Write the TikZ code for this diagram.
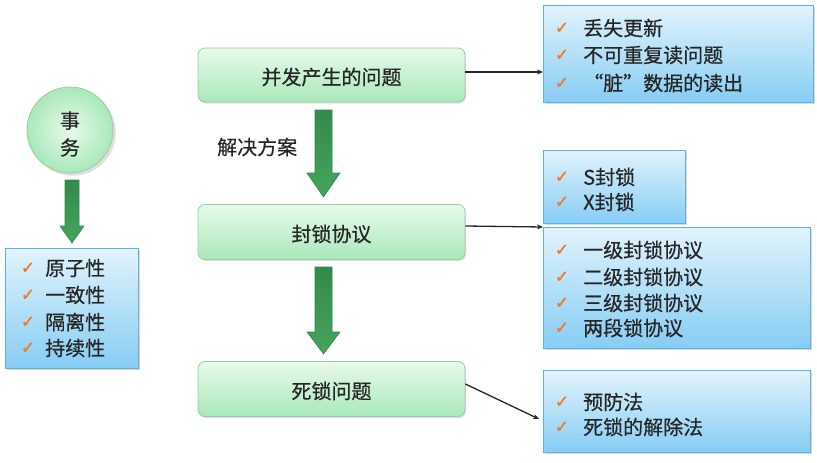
\documentclass[tikz,border=0pt]{standalone}
\usepackage{fontspec}
\setmainfont{Noto Sans CJK SC}[FakeBold=0.5]
\newfontfamily\symfont{DejaVu Sans}[FakeBold=1]
\usetikzlibrary{arrows.meta,shadows}
\definecolor{gTop}{HTML}{E8FAEA}
\definecolor{gBot}{HTML}{A9E8BA}
\definecolor{gLine}{HTML}{97CDA5}
\definecolor{bTop}{HTML}{E2F3FC}
\definecolor{bBot}{HTML}{86CDF4}
\definecolor{bLine}{HTML}{5FB2E4}
\definecolor{arrG}{HTML}{46A45E}
\definecolor{arrGd}{HTML}{338A4B}
\definecolor{txt}{HTML}{262626}
\definecolor{chk}{HTML}{F07A28}
\tikzset{
  greenbox/.style={draw=gLine, line width=0.8pt, rounded corners=7pt, top color=gTop, bottom color=gBot, drop shadow={opacity=0.25, shadow xshift=1pt, shadow yshift=-1.5pt}},
  bluebox/.style={draw=bLine, line width=0.8pt, top color=bTop, bottom color=bBot, drop shadow={opacity=0.3, shadow xshift=1.5pt, shadow yshift=-2pt}},
  lbl/.style={text=txt, font=\fontsize{20}{22}\selectfont, inner sep=0pt, anchor=west},
  ctr/.style={text=txt, font=\fontsize{20}{22}\selectfont, inner sep=0pt},
  chkm/.style={text=chk, font=\symfont\fontsize{17}{17}\selectfont, inner sep=0pt},
  conn/.style={draw=txt, line width=1.3pt, -{Stealth[length=6pt,width=5pt]}},
  bigarrow/.style={draw=arrGd, line width=0.6pt, left color=arrGd, right color=arrG, shading angle=0}
}
\begin{document}
\begin{tikzpicture}[x=1pt,y=-1pt]
\useasboundingbox (0,0) rectangle (817,463);
\fill[white] (0,0) rectangle (817,463);

% circle
\node[circle, minimum size=86pt, draw=gLine, line width=0.8pt, inner color=gTop, outer color=gBot, drop shadow={opacity=0.25}] (tx) at (70,130) {};
\node[ctr, align=center, font=\fontsize{20}{27}\selectfont] (txt1) at (70,134) {事\\务};

% left arrow
\path[bigarrow] (65,180) -- (79,180) -- (79,226) -- (84,226) -- (72,243) -- (60,226) -- (65,226) -- cycle;

% left box
\node[bluebox, minimum width=133pt, minimum height=120pt, inner sep=0pt] (lb) at (71.5,308) {};
\foreach \i/\t/\y in {1/原子性/268,2/一致性/295,3/隔离性/322,4/持续性/348}{
  \node[chkm] (lc\i) at (28,\y) {✓};
  \node[lbl] (lt\i) at (45,\y) {\t};
}

% green boxes
\node[greenbox, minimum width=267pt, minimum height=54pt] (g1) at (331.5,75) {};
\node[ctr] (g1t) at (331.5,77) {并发产生的问题};
\node[greenbox, minimum width=267pt, minimum height=55pt] (g2) at (331.5,232) {};
\node[ctr] (g2t) at (331.5,234) {封锁协议};
\node[greenbox, minimum width=267pt, minimum height=55pt] (g3) at (331.5,389) {};
\node[ctr] (g3t) at (331.5,391) {死锁问题};

% center arrows
\path[bigarrow] (315,110) -- (332,110) -- (332,173) -- (340,173) -- (323.5,197) -- (307,173) -- (315,173) -- cycle;
\path[bigarrow] (315,267) -- (332,267) -- (332,332) -- (340,332) -- (323.5,354) -- (307,332) -- (315,332) -- cycle;
\node[lbl] (sol) at (217,147) {解决方案};

% right boxes
\node[bluebox, minimum width=270pt, minimum height=97pt, inner sep=0pt] (r1) at (678,53.5) {};
\foreach \i/\t/\y in {1/丢失更新/28,2/不可重复读问题/55,3/“脏”数据的读出/83}{
  \node[chkm] (r1c\i) at (562,\y) {✓};
  \node[lbl] (r1t\i) at (583,\y) {\t};
}
\node[bluebox, minimum width=142pt, minimum height=73pt, inner sep=0pt] (r2) at (614,186.5) {};
\foreach \i/\t/\y in {1/S封锁/177,2/X封锁/202}{
  \node[chkm] (r2c\i) at (562,\y) {✓};
  \node[lbl] (r2t\i) at (583,\y) {\t};
}
\node[bluebox, minimum width=267pt, minimum height=121pt, inner sep=0pt] (r3) at (676.5,287.5) {};
\foreach \i/\t/\y in {1/一级封锁协议/250,2/二级封锁协议/277,3/三级封锁协议/303,4/两段锁协议/328}{
  \node[chkm] (r3c\i) at (562,\y) {✓};
  \node[lbl] (r3t\i) at (583,\y) {\t};
}
\node[bluebox, minimum width=267pt, minimum height=82pt, inner sep=0pt] (r4) at (676.5,411) {};
\foreach \i/\t/\y in {1/预防法/402,2/死锁的解除法/427}{
  \node[chkm] (r4c\i) at (562,\y) {✓};
  \node[lbl] (r4t\i) at (583,\y) {\t};
}

% connectors
\coordinate (e1) at (543,72);
\coordinate (e2) at (543,227);
\coordinate (e3) at (539,419);
\draw[conn] (g1.east |- e1) -- (e1);
\draw[conn] (g2.east |- 0,226) -- (e2);
\draw[conn] (g3.east |- 0,384) -- (e3);
\end{tikzpicture}
\end{document}
